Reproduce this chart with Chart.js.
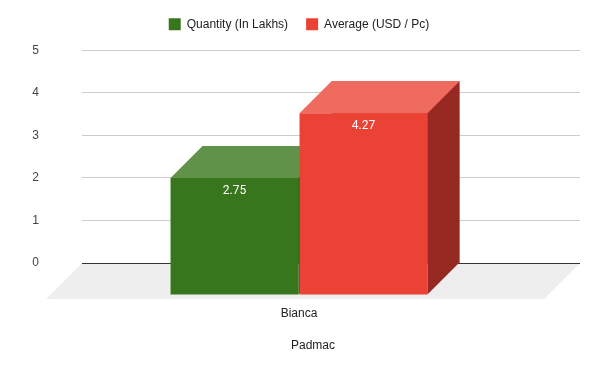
<!DOCTYPE html>
<html><head><meta charset="utf-8">
<script src="https://cdn.jsdelivr.net/npm/chart.js@4.4.1/dist/chart.umd.min.js"></script>
<style>html,body{margin:0;padding:0;background:#fff}#wrap{width:600px;height:371px}</style>
</head><body><div id="wrap"><canvas id="c" width="600" height="371"></canvas></div>
<script>
const categories = ["Bianca"];
const quantity = [2.75];
const average = [4.27];
const seriesNames = ["Quantity (In Lakhs)", "Average (USD / Pc)"];
const xTitle = "Padmac";
const yTicks = [0, 1, 2, 3, 4, 5];

const DEPTH = 32, FLOOR = 36;
const LEGEND_UP = 8, LEGEND_LEFT = 7;
const faces = [
  {front:'#38761d', top:'#60924a', side:'#1f5210'},
  {front:'#ea4335', top:'#ef6a5f', side:'#962a23'}
];

const threeD = {
  id:'threeD',
  afterInit(chart){
    const lg = chart.legend;
    if (lg && !lg._patched) {
      const orig = lg.fit;
      lg.fit = function(){ orig.call(this); this.height += LEGEND_UP + 2; };
      lg._patched = true;
    }
  },
  beforeDraw(chart){
    const lg = chart.legend;
    if (lg) { lg.left -= LEGEND_LEFT; lg.right -= LEGEND_LEFT; }
  },
  afterDraw(chart){
    const lg = chart.legend;
    if (lg) { lg.left += LEGEND_LEFT; lg.right += LEGEND_LEFT; }
    const {ctx, chartArea:a} = chart;
    ctx.save();
    ctx.fillStyle = '#222';
    ctx.font = '12px Arial, "Liberation Sans", sans-serif';
    ctx.textAlign = 'center'; ctx.textBaseline = 'middle';
    ctx.fillText(xTitle, (a.left - FLOOR + a.right)/2, a.bottom + 83);
    ctx.restore();
  },
  beforeDatasetsDraw(chart){
    const {ctx, chartArea:a} = chart;
    ctx.save();
    ctx.fillStyle = '#eeeeee';
    ctx.beginPath();
    ctx.moveTo(a.left, a.bottom);
    ctx.lineTo(a.right, a.bottom);
    ctx.lineTo(a.right - FLOOR, a.bottom + FLOOR);
    ctx.lineTo(a.left - FLOOR, a.bottom + FLOOR);
    ctx.closePath(); ctx.fill();
    ctx.strokeStyle = '#333'; ctx.lineWidth = 1;
    ctx.beginPath(); ctx.moveTo(a.left, a.bottom + 0.5); ctx.lineTo(a.right, a.bottom + 0.5); ctx.stroke();
    ctx.restore();
  },
  afterDatasetsDraw(chart){
    const ctx = chart.ctx;
    ctx.save();
    chart.data.datasets.forEach((ds, di) => {
      const meta = chart.getDatasetMeta(di);
      const f = faces[di];
      meta.data.forEach((bar, i) => {
        const {x, y, base, width} = bar.getProps(['x','y','base','width'], true);
        const L = x - width/2, R = x + width/2;
        const fl = L - DEPTH, fr = R - DEPTH, ft = y + DEPTH, fb = base + DEPTH;
        ctx.fillStyle = f.side;
        ctx.beginPath(); ctx.moveTo(fr, ft); ctx.lineTo(R, y); ctx.lineTo(R, base); ctx.lineTo(fr, fb); ctx.closePath(); ctx.fill();
        ctx.fillStyle = f.top;
        ctx.beginPath(); ctx.moveTo(fl, ft); ctx.lineTo(L, y); ctx.lineTo(R, y); ctx.lineTo(fr, ft); ctx.closePath(); ctx.fill();
        ctx.fillStyle = f.front;
        ctx.fillRect(fl, ft, fr - fl, fb - ft);
        ctx.fillStyle = '#ffffff';
        ctx.font = '12px Roboto, Arial, sans-serif';
        ctx.textAlign = 'center'; ctx.textBaseline = 'middle';
        ctx.fillText(String(ds.data[i]), (fl + fr)/2, ft + 13);
      });
    });
    ctx.restore();
  }
};

new Chart(document.getElementById('c'), {
  type:'bar',
  data:{
    labels: categories,
    datasets:[
      {label: seriesNames[0], data: quantity, backgroundColor: faces[0].front, borderWidth:0},
      {label: seriesNames[1], data: average, backgroundColor: faces[1].front, borderWidth:0}
    ]
  },
  plugins:[threeD],
  options:{
    responsive:false, animation:false,
    datasets:{bar:{categoryPercentage:0.518, barPercentage:0.992}},
    layout:{padding:{left:32, right:20, top:-LEGEND_UP, bottom:48}},
    plugins:{
      legend:{position:'top', labels:{boxWidth:12, boxHeight:12, color:'#222', font:{family:'Arial', size:12}, padding:18}},
      tooltip:{enabled:false}
    },
    scales:{
      x:{
        grid:{display:false, drawTicks:false},
        border:{display:false},
        ticks:{color:'#222', font:{family:'Arial', size:12}, padding:43, labelOffset:-DEPTH},
        afterFit(s){ s.height = 60; }
      },
      y:{
        min:0, max:5,
        afterBuildTicks(s){ s.ticks = yTicks.map(v => ({value:v})); },
        grid:{drawTicks:false, color:(c)=> c.tick && c.tick.value === 0 ? 'rgba(0,0,0,0)' : '#cccccc'},
        border:{display:false},
        ticks:{color:'#444', font:{family:'Arial', size:12}, padding:43},
        afterFit(s){ s.width = 50; }
      }
    }
  }
});
</script></body></html>
